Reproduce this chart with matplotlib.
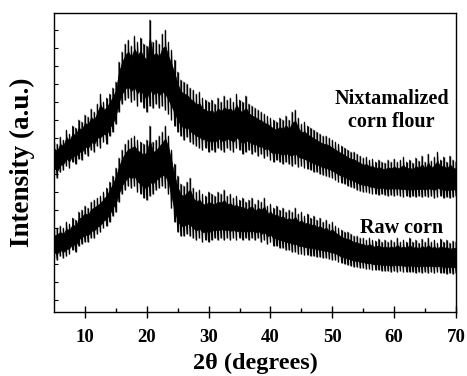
import numpy as np
import matplotlib
matplotlib.use("Agg")
import matplotlib.pyplot as plt

# 2-theta grid (degrees), 0.5 deg step
two_theta = np.arange(5.0, 70.01, 0.5)

# Nixtamalized corn flour: lower / upper envelope of the noisy trace (a.u.)
nix_low = [138, 134, 140, 142, 146, 144, 150, 148, 153, 152, 158, 156, 162, 160, 166, 164, 170, 168, 176, 180,
           188, 200, 208, 212, 214, 210, 212, 206, 210, 204, 200, 206, 204, 208, 204, 206, 202, 198, 192, 186,
           180, 176, 172, 175, 170, 168, 166, 164, 162, 164, 160, 162, 160, 164, 162, 160, 164, 162, 160, 164,
           162, 158, 160, 162, 158, 160, 156, 158, 154, 156, 152, 150, 152, 150, 148, 150, 148, 146, 148, 145,
           146, 144, 143, 142, 140, 140, 138, 137, 136, 135, 134, 132, 130, 129, 128, 126, 125, 124, 122, 121,
           120, 120, 119, 118, 118, 117, 118, 117, 116, 117, 116, 117, 116, 115, 116, 115, 116, 115, 116, 115,
           116, 115, 116, 114, 115, 116, 114, 115, 114, 115, 116]
nix_high = [170, 168, 175, 172, 182, 178, 186, 184, 192, 190, 197, 195, 203, 200, 208, 218, 210, 214, 218, 224,
            230, 250, 260, 268, 272, 266, 276, 270, 274, 268, 266, 292, 270, 272, 268, 278, 282, 270, 262, 252,
            240, 232, 230, 228, 224, 222, 218, 220, 214, 212, 210, 212, 208, 214, 210, 216, 212, 214, 210, 218,
            212, 210, 216, 208, 206, 204, 202, 200, 198, 196, 194, 192, 190, 194, 192, 196, 192, 200, 202, 194,
            188, 190, 186, 184, 182, 180, 178, 176, 176, 174, 172, 170, 168, 166, 164, 162, 160, 160, 158, 156,
            154, 155, 152, 153, 150, 152, 150, 149, 152, 150, 153, 150, 152, 155, 150, 152, 149, 154, 151, 156,
            150, 158, 151, 155, 160, 152, 155, 150, 156, 152, 150]

# Raw corn: lower / upper envelope of the noisy trace (a.u.)
raw_low = [54, 52, 56, 54, 56, 58, 62, 60, 66, 68, 70, 70, 74, 74, 78, 80, 84, 86, 90, 96,
           100, 110, 118, 122, 126, 124, 126, 120, 118, 114, 112, 116, 118, 122, 124, 126, 124, 118, 104, 90,
           80, 76, 76, 78, 76, 74, 72, 74, 70, 72, 70, 72, 74, 72, 74, 72, 74, 72, 74, 72,
           74, 72, 74, 72, 74, 72, 74, 70, 72, 68, 70, 66, 66, 64, 64, 62, 62, 60, 60, 58,
           58, 57, 57, 56, 56, 55, 55, 54, 54, 53, 52, 52, 50, 49, 48, 47, 46, 45, 45, 44,
           44, 43, 43, 42, 42, 42, 41, 41, 41, 40, 41, 40, 41, 40, 40, 40, 40, 39, 40, 39,
           40, 39, 40, 39, 40, 39, 39, 38, 39, 38, 39]
raw_high = [82, 84, 86, 84, 90, 88, 94, 92, 100, 102, 106, 104, 110, 112, 114, 116, 120, 124, 130, 136,
            144, 154, 162, 168, 172, 174, 176, 172, 170, 168, 172, 186, 170, 172, 176, 180, 186, 176, 162, 148,
            136, 128, 126, 130, 134, 124, 120, 122, 118, 116, 120, 118, 116, 120, 118, 122, 116, 118, 114, 116,
            112, 114, 110, 112, 114, 108, 112, 110, 114, 106, 108, 104, 106, 102, 104, 100, 102, 100, 104, 98,
            100, 96, 98, 94, 96, 92, 94, 90, 92, 88, 90, 86, 84, 82, 80, 80, 78, 76, 76, 74,
            74, 72, 74, 72, 71, 73, 70, 72, 70, 72, 70, 74, 70, 72, 70, 74, 70, 72, 69, 73,
            70, 74, 70, 72, 69, 73, 70, 72, 69, 71, 70]

x_ticks = [10, 20, 30, 40, 50, 60, 70]
x_minor = [15, 25, 35, 45, 55, 65]
y_ticks = list(range(12, 299, 18))

label_nix = "Nixtamalized\ncorn flour"
label_raw = "Raw corn"

serif = ["Liberation Serif", "DejaVu Serif"]

fig = plt.figure(figsize=(4.67, 3.76), dpi=100)
ax = fig.add_axes([0.1156, 0.1702, 0.8608, 0.7952])

for lo, hi in [(nix_low, nix_high), (raw_low, raw_high)]:
    lo = np.asarray(lo, float)
    hi = np.asarray(hi, float)
    span = hi - lo
    # dense core of the noisy band
    ax.fill_between(two_theta, lo + 0.2 * span, hi - 0.2 * span, color="black", linewidth=0.5)
    # noise hairs reaching the full envelope
    ax.vlines(two_theta, lo, hi, color="black", linewidth=1.0)
    # zig-zag trace through the envelope points
    zx = np.repeat(two_theta, 2)
    zy = np.column_stack([lo, hi]).ravel()
    ax.plot(zx, zy, color="black", linewidth=0.6)

ax.set_xlim(5, 70)
ax.set_ylim(0, 299)
ax.set_xticks(x_ticks)
ax.set_xticks(x_minor, minor=True)
ax.set_yticks(y_ticks)
ax.set_yticklabels([])
ax.tick_params(axis="x", which="major", direction="inout", length=8, width=1, pad=8)
ax.tick_params(axis="x", which="minor", direction="in", length=3, width=1)
ax.tick_params(axis="y", which="major", direction="in", length=3, width=0.8)
for lab in ax.get_xticklabels():
    lab.set_fontfamily(serif)
    lab.set_fontweight("bold")
    lab.set_fontsize(13.5)
for sp in ax.spines.values():
    sp.set_linewidth(1.0)

ax.set_xlabel("2θ (degrees)", fontfamily=serif, fontweight="bold", fontsize=17.5, labelpad=5)
ax.set_ylabel("Intensity (a.u.)", fontfamily=serif, fontweight="bold", fontsize=19.5, labelpad=10)

ax.text(59.6, 202, label_nix, ha="center", va="center", fontfamily=serif, fontweight="bold",
        fontsize=14.5, linespacing=1.2)
ax.text(61.2, 84, label_raw, ha="center", va="center", fontfamily=serif, fontweight="bold",
        fontsize=14.5)

fig.savefig("out.png", dpi=100)
